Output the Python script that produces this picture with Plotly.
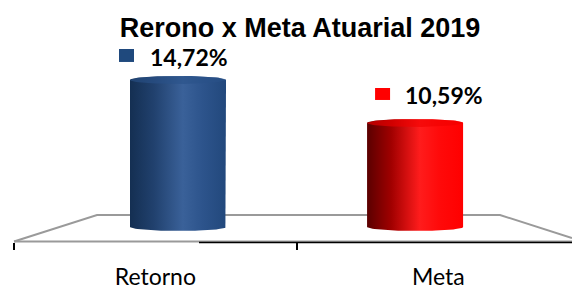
import numpy as np
import plotly.graph_objects as go

# ---------------- data ----------------
categories = ["Retorno", "Meta"]
values = [14.72, 10.59]
value_labels = ["14,72%", "10,59%"]
title_text = "Rerono x Meta Atuarial 2019"

# ---------------- style / layout constants ----------------
W, H = 572, 293
Y_RANGE = [-5.74, 22.40]
X_RANGE = [-0.751, 1.662]
FLOOR = 0.6           # level at which the cylinders rest on the 3D floor
BAR_W = 0.405         # cylinder width (x units)
ELL_PX = 4            # half height of the cylinder ellipses in px

bar_gradients = [
    [[0.0, "#142f52"], [0.25, "#21416e"], [0.55, "#3a6199"], [0.75, "#2d548c"], [1.0, "#22487c"]],
    [[0.0, "#5a0000"], [0.25, "#a00000"], [0.55, "#ff1c1c"], [0.75, "#ff0a0a"], [1.0, "#ff0000"]],
]
top_colors = ["#2a5188", "#f00000"]
square_colors = ["#1f497d", "#ff0000"]
label_shift = [(-30, 23), (-12, 28)]                   # text offset (px) from bar top
square_px = [(-59, -44, 18, 31), (-40, -25, 23, 35)]   # square offsets (px) from bar top

px_per_unit = H / (Y_RANGE[1] - Y_RANGE[0])
e = ELL_PX / px_per_unit

fig = go.Figure()

t_top = np.linspace(np.pi, 0, 40)
t_bot = np.linspace(0, -np.pi, 40)
t_full = np.linspace(0, 2 * np.pi, 80)
r = BAR_W / 2
for i, v in enumerate(values):
    xs = np.concatenate([i + r * np.cos(t_top), i + r * np.cos(t_bot)])
    ys = np.concatenate([v + e * np.sin(t_top), FLOOR + e * np.sin(t_bot)])
    xs = np.append(xs, xs[0])
    ys = np.append(ys, ys[0])
    fig.add_trace(go.Scatter(
        x=xs, y=ys, mode="lines", fill="toself",
        line=dict(width=0),
        fillgradient=dict(type="horizontal", colorscale=bar_gradients[i]),
        hoverinfo="skip", showlegend=False,
    ))
    # top face of the cylinder
    fig.add_trace(go.Scatter(
        x=i + r * np.cos(t_full), y=v + e * np.sin(t_full), mode="lines", fill="toself",
        line=dict(width=0), fillcolor=top_colors[i], opacity=0.6,
        hoverinfo="skip", showlegend=False,
    ))

# invisible trace carrying the category axis
fig.add_trace(go.Scatter(
    x=categories, y=values, xaxis="x2", mode="markers",
    marker=dict(opacity=0), hoverinfo="skip", showlegend=False,
))

def px(xp, yp):
    return xp / W, 1 - yp / H

shapes = []
# floor outline (paper coords)
pts = [(14, 241.5), (97, 215), (500, 215), (572, 238)]
path = "M " + " L ".join(f"{px(a, b)[0]:.5f},{px(a, b)[1]:.5f}" for a, b in pts)
shapes.append(dict(type="path", path=path, xref="paper", yref="paper",
                   line=dict(color="#9a9a9a", width=2), layer="below"))
x0, y0 = px(14, 241.5)
x1, _ = px(572, 241.5)
shapes.append(dict(type="line", xref="paper", yref="paper", x0=x0, x1=x1, y0=y0, y1=y0,
                   line=dict(color="#9a9a9a", width=2), layer="below"))
x0, y0 = px(199, 242.5)
shapes.append(dict(type="line", xref="paper", yref="paper", x0=x0, x1=1, y0=y0, y1=y0,
                   line=dict(color="#000000", width=1.5), layer="below"))

annotations = []
for i, v in enumerate(values):
    a, b, c, d = square_px[i]
    shapes.append(dict(type="rect", xref="x", yref="y", xsizemode="pixel", ysizemode="pixel",
                       xanchor=i, yanchor=v, x0=a, x1=b, y0=c, y1=d,
                       fillcolor=square_colors[i], line=dict(width=0)))
    annotations.append(dict(
        x=i, y=v, xref="x", yref="y", text=f"<b>{value_labels[i]}</b>",
        showarrow=False, xanchor="left", yanchor="middle",
        xshift=label_shift[i][0], yshift=label_shift[i][1],
        font=dict(family="Lato", size=23, color="#000000"),
    ))

fig.update_layout(
    width=W, height=H,
    margin=dict(l=0, r=0, t=0, b=0),
    paper_bgcolor="white", plot_bgcolor="white",
    title=dict(text=f"<b>{title_text}</b>", x=300 / W, y=1 - 28 / H,
               xanchor="center", yanchor="middle",
               font=dict(family="Liberation Sans, Arial", size=27, color="#000000")),
    xaxis=dict(range=X_RANGE, visible=False, fixedrange=True),
    yaxis=dict(range=Y_RANGE, visible=False, fixedrange=True),
    xaxis2=dict(
        overlaying="x", anchor="free", position=1 - 242 / H, side="bottom",
        type="category", categoryorder="array", categoryarray=categories,
        range=[-0.549, 1.472], tickson="boundaries",
        ticks="outside", ticklen=7, tickwidth=2, tickcolor="#000000",
        showline=False, showgrid=False, zeroline=False,
        ticklabelstandoff=19,
        tickfont=dict(family="Lato", size=23, color="#000000"),
    ),
    shapes=shapes,
    annotations=annotations,
    showlegend=False,
)

fig.write_html("out.html", config=dict(displayModeBar=False),
               post_script="document.body.style.margin='0';document.body.style.overflow='hidden';")
